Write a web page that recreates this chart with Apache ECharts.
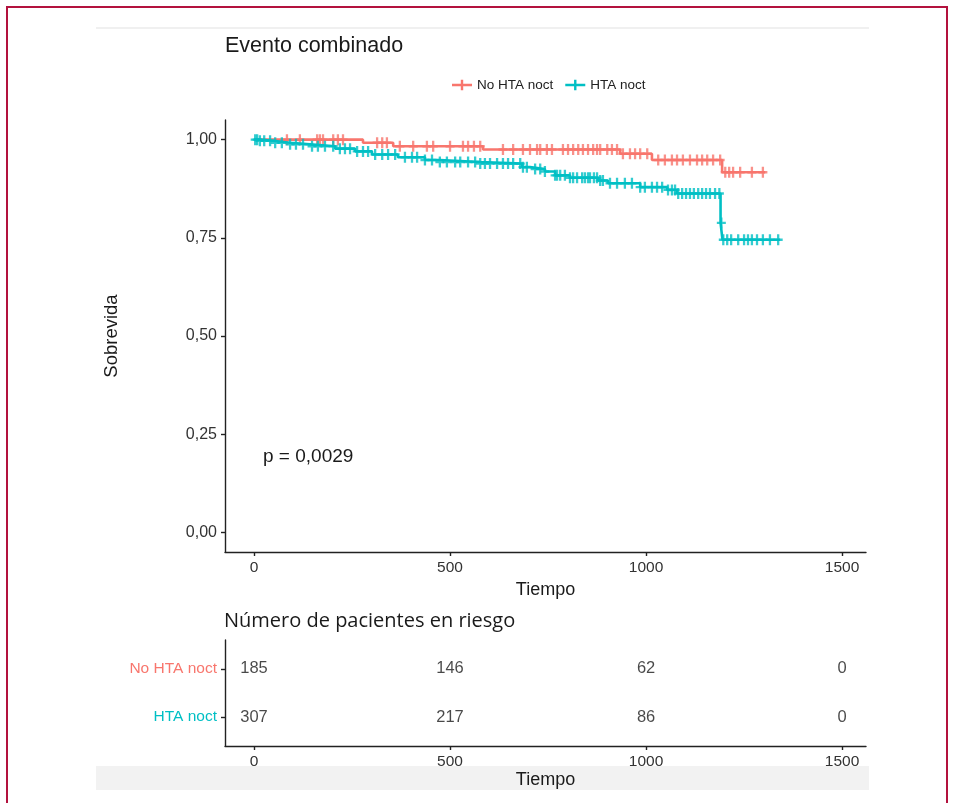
<!DOCTYPE html>
<html>
<head>
<meta charset="utf-8">
<script src="https://cdn.jsdelivr.net/npm/echarts@6/dist/echarts.min.js"></script>
<style>
html,body{margin:0;padding:0;background:#fff;}
#chart{width:954px;height:803px;}
</style>
</head>
<body>
<div id="chart"></div>
<script>
// ---- Data ----
const groupNames = ['No HTA noct', 'HTA noct'];

// Kaplan-Meier step points: event time and survival after the drop
const redTimes = [0, 278, 355, 584, 934, 1015, 1194];
const redSurv  = [1.000, 0.992, 0.983, 0.975, 0.964, 0.948, 0.917];
const redEnd = 1304;

const blueTimes = [0, 15, 48, 92, 143, 207, 258, 301, 367, 436, 474, 577, 684, 704, 742, 768, 806, 878, 903, 985, 1054, 1079, 1190, 1195];
const blueSurv  = [1.000, 0.997, 0.992, 0.988, 0.983, 0.977, 0.970, 0.962, 0.955, 0.948, 0.943, 0.939, 0.930, 0.925, 0.919, 0.909, 0.903, 0.896, 0.889, 0.879, 0.872, 0.863, 0.788, 0.745];
const blueEnd = 1342;

// Censoring times
const redCensor = [84, 117, 161, 168, 176, 202, 214, 227, 314, 327, 339, 372, 406, 441, 457, 500, 533, 546, 561, 577, 635, 661, 686, 704, 722, 730, 747, 760, 788, 801, 814, 827, 839, 852, 865, 875, 883, 901, 913, 926, 941, 959, 972, 985, 1003, 1031, 1048, 1066, 1079, 1094, 1112, 1130, 1143, 1156, 1171, 1189, 1202, 1212, 1222, 1240, 1270, 1298];
const blueCensor = [3, 8, 15, 26, 41, 54, 71, 92, 107, 125, 148, 163, 181, 202, 219, 232, 245, 263, 278, 291, 309, 327, 342, 360, 385, 403, 416, 436, 454, 474, 492, 513, 526, 546, 564, 577, 589, 602, 620, 635, 648, 661, 679, 686, 696, 717, 730, 742, 768, 773, 781, 793, 806, 814, 824, 837, 844, 852, 857, 867, 875, 883, 890, 908, 926, 946, 964, 985, 997, 1015, 1028, 1041, 1056, 1066, 1074, 1082, 1092, 1102, 1112, 1122, 1133, 1143, 1153, 1163, 1176, 1187, 1192, 1197, 1207, 1217, 1235, 1250, 1260, 1270, 1283, 1298, 1316, 1337];

// Risk table
const riskTimes = [0, 500, 1000, 1500];
const riskNoHta = [185, 146, 62, 0];
const riskHta   = [307, 217, 86, 0];

const xTicks = [0, 500, 1000, 1500];
const yTicks = [0, 0.25, 0.5, 0.75, 1];

// ---- Helpers ----
function stepData(times, surv, end) {
  const d = times.map((t, i) => [t, surv[i]]);
  d.push([end, surv[surv.length - 1]]);
  return d;
}
function survAt(times, surv, t) {
  let s = 1;
  for (let i = 0; i < times.length; i++) if (times[i] <= t) s = surv[i];
  return s;
}
const RED = '#F8766D', TEAL = '#00BFC4';
const FONT = 'Liberation Sans, Arial, sans-serif';
const plusPath = 'path://M3.5,0h2.4v4.3h3.5v2.4h-3.5v4.3h-2.4v-4.3h-3.5v-2.4h3.5z';
const legendIcon = 'path://M0,4h20v2.4h-20z M8.8,0h2.4v10.4h-2.4z';

const chart = echarts.init(document.getElementById('chart'));
const axisLineStyle = {color: '#222', width: 1.4};

function xAxisDef(grid, gap) {
  return {
    gridIndex: grid, type: 'value', min: -74, max: 1561,
    name: 'Tiempo', nameLocation: 'middle', nameGap: gap,
    nameTextStyle: {fontFamily: FONT, fontSize: 18, color: '#1a1a1a'},
    axisLine: {show: true, onZero: false, lineStyle: axisLineStyle},
    axisTick: {show: true, length: 4, customValues: xTicks, lineStyle: axisLineStyle},
    axisLabel: {customValues: xTicks, margin: 8, fontFamily: FONT, fontSize: 15.5, color: '#333',
      formatter: v => String(v)},
    splitLine: {show: false}
  };
}

chart.setOption({
  animation: false,
  backgroundColor: '#fff',
  title: [
    {text: 'Evento combinado', left: 220, top: 30, textStyle: {fontFamily: FONT, fontSize: 21.5, fontWeight: 'normal', color: '#1a1a1a'}},
    {text: 'Número de pacientes en riesgo', left: 219, top: 606, textStyle: {fontFamily: 'Open Sans, Noto Sans, sans-serif', fontSize: 20, fontWeight: 'normal', color: '#1a1a1a'}}
  ],
  legend: {
    data: groupNames,
    left: 447, top: 73,
    itemWidth: 20, itemHeight: 10.4, itemGap: 12,
    icon: legendIcon,
    textStyle: {fontFamily: FONT, fontSize: 13.5, color: '#222'}
  },
  grid: [
    {left: 225, right: 88, top: 120, bottom: 251},
    {left: 225, right: 88, top: 640, bottom: 57}
  ],
  xAxis: [xAxisDef(0, 26), xAxisDef(1, 25)],
  yAxis: [
    {
      gridIndex: 0, type: 'value', min: -0.05, max: 1.05,
      name: 'Sobrevida', nameLocation: 'middle', nameGap: 104,
      nameTextStyle: {fontFamily: FONT, fontSize: 18.5, color: '#1a1a1a'},
      axisLine: {show: true, onZero: false, lineStyle: axisLineStyle},
      axisTick: {show: true, length: 4, customValues: yTicks, lineStyle: axisLineStyle},
      axisLabel: {customValues: yTicks, margin: 8, fontFamily: FONT, fontSize: 16, color: '#333',
        formatter: v => v.toFixed(2).replace('.', ',')},
      splitLine: {show: false}
    },
    {
      gridIndex: 1, type: 'value', min: 0.4, max: 2.6,
      axisLine: {show: true, onZero: false, lineStyle: axisLineStyle},
      axisTick: {show: true, length: 4, customValues: [1, 2], lineStyle: axisLineStyle},
      axisLabel: {customValues: [1, 2], margin: 8, fontFamily: FONT, fontSize: 15.5,
        formatter: v => v === 2 ? '{a|' + groupNames[0] + '}' : (v === 1 ? '{b|' + groupNames[1] + '}' : ''),
        rich: {a: {color: RED, fontFamily: FONT, fontSize: 15.5}, b: {color: TEAL, fontFamily: FONT, fontSize: 15.5}}},
      splitLine: {show: false}
    }
  ],
  graphic: [
    {type: 'rect', z: -10, shape: {x: 96, y: 766, width: 773, height: 24}, style: {fill: '#f2f2f2'}},
    {type: 'rect', z: -10, shape: {x: 96, y: 27, width: 773, height: 2}, style: {fill: '#f0f0f0'}},
    {type: 'rect', z: 50, shape: {x: 7, y: 7, width: 940, height: 810}, style: {fill: 'none', stroke: '#b3123e', lineWidth: 2}},
    {type: 'text', left: 263, top: 447, style: {text: 'p = 0,0029', fontFamily: FONT, fontSize: 19, fill: '#1a1a1a'}}
  ],
  series: [
    {name: groupNames[0], type: 'line', xAxisIndex: 0, yAxisIndex: 0, step: 'end', showSymbol: false,
      data: stepData(redTimes, redSurv, redEnd), lineStyle: {color: RED, width: 2.6}, itemStyle: {color: RED}, z: 3},
    {name: groupNames[1], type: 'line', xAxisIndex: 0, yAxisIndex: 0, step: 'end', showSymbol: false,
      data: stepData(blueTimes, blueSurv, blueEnd), lineStyle: {color: TEAL, width: 2.6}, itemStyle: {color: TEAL}, z: 4},
    {name: 'censor-red', type: 'scatter', xAxisIndex: 0, yAxisIndex: 0, symbol: plusPath, symbolSize: [9, 11],
      data: redCensor.map(t => [t, survAt(redTimes, redSurv, t)]), itemStyle: {color: RED}, z: 3},
    {name: 'censor-teal', type: 'scatter', xAxisIndex: 0, yAxisIndex: 0, symbol: plusPath, symbolSize: [9, 11],
      data: blueCensor.map(t => [t, survAt(blueTimes, blueSurv, t)]), itemStyle: {color: TEAL}, z: 4},
    {name: 'risk', type: 'scatter', xAxisIndex: 1, yAxisIndex: 1, symbolSize: 0.1, itemStyle: {color: 'rgba(0,0,0,0)'},
      data: riskTimes.map((t, i) => [t, 2, riskNoHta[i]]).concat(riskTimes.map((t, i) => [t, 1, riskHta[i]])),
      label: {show: true, position: 'inside', formatter: p => String(p.value[2]), fontFamily: FONT, fontSize: 16.5, color: '#1a1a1a'}}
  ]
});
</script>
</body>
</html>
